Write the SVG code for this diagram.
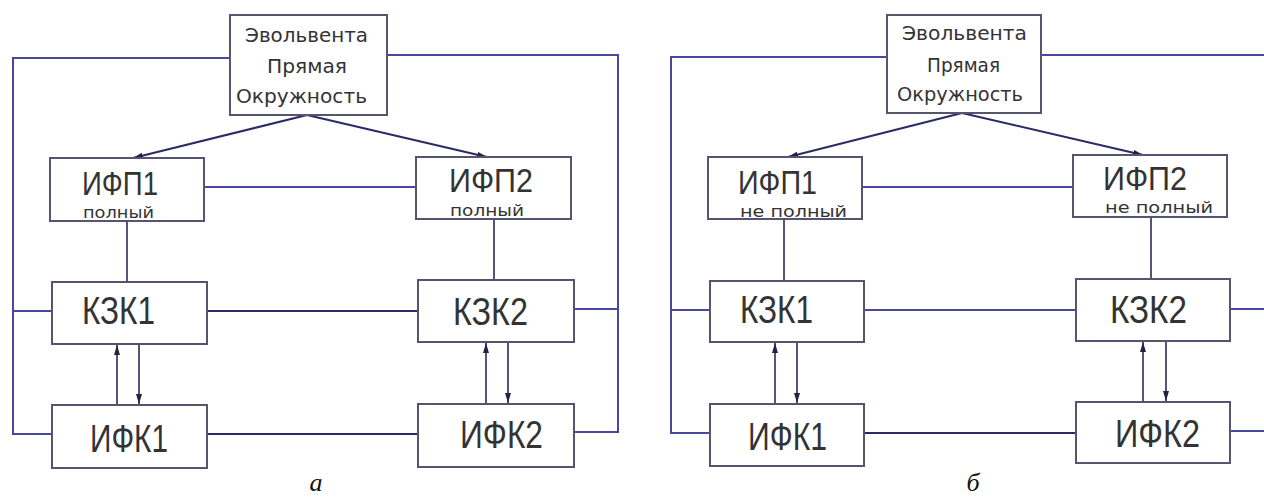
<svg xmlns="http://www.w3.org/2000/svg" width="1264" height="499" viewBox="0 0 1264 499">
<defs>
<marker id="ah" viewBox="0 0 10 6" refX="10" refY="3" markerWidth="10" markerHeight="6" markerUnits="userSpaceOnUse" orient="auto">
<path d="M0,0 L10,3 L0,6 Z" fill="#222244"/>
</marker>
</defs>
<style>
.box{fill:#ffffff;stroke:#555570;stroke-width:2}
.ln{fill:none;stroke:#4848a0;stroke-width:2}
.dl{fill:none;stroke:#2a2a66;stroke-width:2}
.vl{fill:none;stroke:#55557a;stroke-width:2}
.g{font-family:"DejaVu Sans Condensed","Liberation Sans",sans-serif;font-size:20px;fill:#333}
.m{font-family:"Liberation Sans","DejaVu Sans",sans-serif;font-size:38px;fill:#333}
.p{font-family:"Liberation Sans","DejaVu Sans",sans-serif;font-size:34px;fill:#333}
.s{font-family:"DejaVu Sans Condensed","Liberation Sans",sans-serif;font-size:16px;fill:#333}
.cap{font-family:"Liberation Serif",serif;font-style:italic;font-size:26px;fill:#111}
</style>
<rect width="1264" height="499" fill="#ffffff"/>
<g id="connectors">
<polyline class="ln" points="230,58 13,58 13,434 52,434"/>
<line class="ln" x1="13" y1="311" x2="52" y2="311"/>
<polyline class="ln" points="387,55 618,55 618,432 574,432"/>
<line class="ln" x1="574" y1="309" x2="618" y2="309"/>
<line class="ln" x1="204" y1="187" x2="416" y2="187"/>
<line class="vl" x1="127" y1="221" x2="127" y2="282"/>
<line class="vl" x1="494" y1="219" x2="494" y2="280"/>
<line class="dl" x1="207" y1="311" x2="418" y2="311"/>
<line class="dl" x1="207" y1="434" x2="418" y2="434"/>
<line class="dl" x1="307" y1="115" x2="133" y2="158" marker-end="url(#ah)"/>
<line class="dl" x1="307" y1="115" x2="487" y2="157" marker-end="url(#ah)"/>
<line class="vl" x1="117" y1="405" x2="117" y2="345" marker-end="url(#ah)"/>
<line class="vl" x1="139" y1="344" x2="139" y2="404" marker-end="url(#ah)"/>
<line class="vl" x1="486" y1="404" x2="486" y2="343" marker-end="url(#ah)"/>
<line class="vl" x1="508" y1="342" x2="508" y2="403" marker-end="url(#ah)"/>

<polyline class="ln" points="887,57 671,57 671,433 710,433"/>
<line class="ln" x1="671" y1="310" x2="710" y2="310"/>
<line class="ln" x1="1041" y1="55" x2="1264" y2="55"/>
<line class="ln" x1="1230" y1="309" x2="1264" y2="309"/>
<line class="ln" x1="1230" y1="431" x2="1264" y2="431"/>
<line class="ln" x1="862" y1="187" x2="1073" y2="187"/>
<line class="vl" x1="784" y1="219" x2="784" y2="281"/>
<line class="vl" x1="1151" y1="217" x2="1151" y2="279"/>
<line class="ln" x1="864" y1="310" x2="1076" y2="310"/>
<line class="dl" x1="864" y1="433" x2="1076" y2="433"/>
<line class="dl" x1="962" y1="113" x2="788" y2="157" marker-end="url(#ah)"/>
<line class="dl" x1="962" y1="113" x2="1143" y2="155" marker-end="url(#ah)"/>
<line class="vl" x1="775" y1="404" x2="775" y2="343" marker-end="url(#ah)"/>
<line class="vl" x1="797" y1="342" x2="797" y2="403" marker-end="url(#ah)"/>
<line class="vl" x1="1143" y1="402" x2="1143" y2="342" marker-end="url(#ah)"/>
<line class="vl" x1="1166" y1="341" x2="1166" y2="401" marker-end="url(#ah)"/>
</g>

<g id="a-top">
<rect class="box" x="230" y="15" width="157" height="100"/>
<text class="g" x="245" y="42" textLength="123" lengthAdjust="spacingAndGlyphs">Эвольвента</text>
<text class="g" x="267" y="73" textLength="80" lengthAdjust="spacingAndGlyphs">Прямая</text>
<text class="g" x="236" y="103" textLength="131" lengthAdjust="spacingAndGlyphs">Окружность</text>
</g>
<g id="a-ifp1">
<rect class="box" x="50" y="158" width="154" height="63"/>
<text class="p" x="82" y="195" textLength="76" lengthAdjust="spacingAndGlyphs">ИФП1</text>
<text class="s" x="83" y="218" textLength="71" lengthAdjust="spacingAndGlyphs">полный</text>
</g>
<g id="a-ifp2">
<rect class="box" x="416" y="157" width="155" height="62"/>
<text class="p" x="449" y="192" textLength="84" lengthAdjust="spacingAndGlyphs">ИФП2</text>
<text class="s" x="450" y="216" textLength="74" lengthAdjust="spacingAndGlyphs">полный</text>
</g>
<g id="a-kzk1">
<rect class="box" x="52" y="282" width="155" height="62"/>
<text class="m" x="82" y="324" textLength="73" lengthAdjust="spacingAndGlyphs">КЗК1</text>
</g>
<g id="a-kzk2">
<rect class="box" x="418" y="280" width="156" height="62"/>
<text class="m" x="453" y="325" textLength="75" lengthAdjust="spacingAndGlyphs">КЗК2</text>
</g>
<g id="a-ifk1">
<rect class="box" x="52" y="405" width="155" height="63"/>
<text class="m" x="90" y="452" textLength="78" lengthAdjust="spacingAndGlyphs">ИФК1</text>
</g>
<g id="a-ifk2">
<rect class="box" x="418" y="404" width="156" height="63"/>
<text class="m" x="460" y="448" textLength="83" lengthAdjust="spacingAndGlyphs">ИФК2</text>
</g>

<g id="b-top">
<rect class="box" x="887" y="15" width="154" height="98"/>
<text class="g" x="902" y="40" textLength="125" lengthAdjust="spacingAndGlyphs">Эвольвента</text>
<text class="g" x="927" y="72" textLength="73" lengthAdjust="spacingAndGlyphs">Прямая</text>
<text class="g" x="897" y="101" textLength="126" lengthAdjust="spacingAndGlyphs">Окружность</text>
</g>
<g id="b-ifp1">
<rect class="box" x="708" y="157" width="154" height="62"/>
<text class="p" x="738" y="194" textLength="79" lengthAdjust="spacingAndGlyphs">ИФП1</text>
<text class="s" x="740" y="217" textLength="107" lengthAdjust="spacingAndGlyphs">не полный</text>
</g>
<g id="b-ifp2">
<rect class="box" x="1073" y="155" width="154" height="62"/>
<text class="p" x="1103" y="190" textLength="84" lengthAdjust="spacingAndGlyphs">ИФП2</text>
<text class="s" x="1105" y="213" textLength="108" lengthAdjust="spacingAndGlyphs">не полный</text>
</g>
<g id="b-kzk1">
<rect class="box" x="710" y="281" width="154" height="61"/>
<text class="m" x="740" y="323" textLength="73" lengthAdjust="spacingAndGlyphs">КЗК1</text>
</g>
<g id="b-kzk2">
<rect class="box" x="1076" y="279" width="154" height="62"/>
<text class="m" x="1110" y="323" textLength="77" lengthAdjust="spacingAndGlyphs">КЗК2</text>
</g>
<g id="b-ifk1">
<rect class="box" x="710" y="404" width="154" height="62"/>
<text class="m" x="748" y="450" textLength="79" lengthAdjust="spacingAndGlyphs">ИФК1</text>
</g>
<g id="b-ifk2">
<rect class="box" x="1076" y="402" width="154" height="61"/>
<text class="m" x="1115" y="447" textLength="85" lengthAdjust="spacingAndGlyphs">ИФК2</text>
</g>

<text class="cap" x="316" y="491" text-anchor="middle">а</text>
<text class="cap" x="973" y="491" text-anchor="middle">б</text>
</svg>
